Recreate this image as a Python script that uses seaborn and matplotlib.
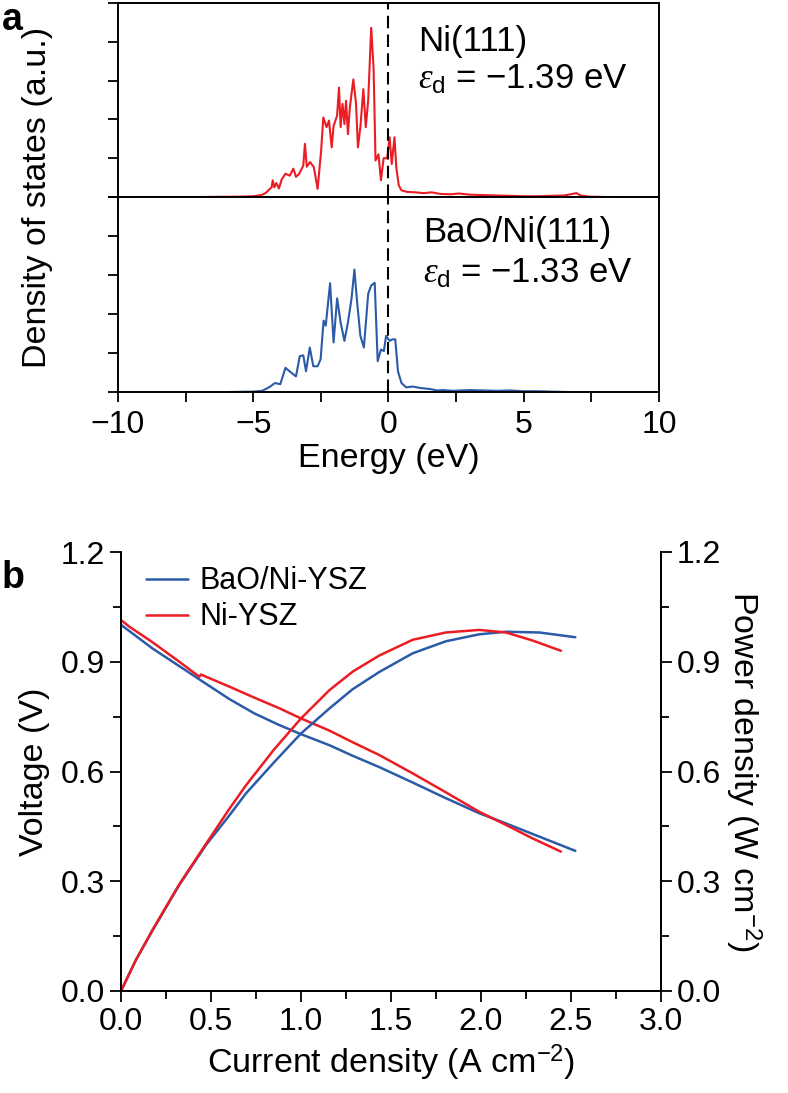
import matplotlib
matplotlib.use("Agg")
import numpy as np
import pandas as pd
import seaborn as sns
import matplotlib.pyplot as plt
from matplotlib.ticker import MultipleLocator

# ---------------- data ----------------
# Panel a: d-band density of states
ni_energy = [-9.2, -7.0, -5.5, -5.0, -4.7, -4.55, -4.47, -4.4, -4.32, -4.28, -4.22, -4.15,
             -4.05, -3.95, -3.81, -3.65, -3.52, -3.42, -3.3, -3.15, -3.09, -3.02, -2.9,
             -2.76, -2.62, -2.49, -2.41, -2.29, -2.2, -2.1, -2.03, -1.9, -1.83, -1.77,
             -1.7, -1.63, -1.57, -1.5, -1.43, -1.30, -1.2, -1.13, -1.04, -0.93, -0.84,
             -0.75, -0.64, -0.55, -0.48, -0.37, -0.28, -0.18, -0.05, 0.04, 0.12, 0.22,
             0.29, 0.38, 0.48, 0.7, 1.0, 1.3, 1.6, 1.9, 2.3, 2.6, 3.0, 3.5, 4.0, 4.5,
             5.0, 5.5, 6.0, 6.5, 6.95, 7.1, 7.4, 8.0, 8.5]
ni_dos = [0.0, 0.0, 0.01, 0.02, 0.05, 0.1, 0.15, 0.2, 0.25, 0.43, 0.25, 0.36,
          0.22, 0.45, 0.6, 0.55, 0.73, 0.52, 0.6, 0.81, 1.37, 0.78, 0.9,
          0.77, 0.21, 1.2, 2.05, 1.8, 1.97, 1.28, 1.83, 2.1, 2.82, 1.8,
          2.4, 1.88, 2.48, 1.62, 2.3, 3.03, 2.4, 1.28, 1.8, 2.78, 1.8,
          2.5, 4.36, 3.3, 0.94, 1.1, 0.43, 1.0, 1.0, 1.54, 0.85, 1.54,
          0.75, 0.3, 0.17, 0.13, 0.12, 0.1, 0.12, 0.08, 0.07, 0.09, 0.06, 0.05, 0.04, 0.03,
          0.02, 0.02, 0.03, 0.04, 0.1, 0.04, 0.01, 0.0, 0.0]

bao_energy = [-5.9, -5.0, -4.67, -4.47, -4.35, -4.2, -4.0, -3.81, -3.62, -3.42, -3.28,
              -3.15, -3.05, -2.91, -2.78, -2.62, -2.51, -2.4, -2.32, -2.16, -2.03, -1.9,
              -1.77, -1.63, -1.5, -1.37, -1.26, -1.17, -1.04, -0.91, -0.75, -0.64, -0.51,
              -0.40, -0.28, -0.17, -0.09, 0.04, 0.15, 0.25, 0.35, 0.48, 0.65, 0.9, 1.2,
              1.5, 1.8, 2.0, 2.4, 3.0, 3.5, 4.0, 4.5, 5.0, 5.6, 6.0, 6.6]
bao_dos = [0.0, 0.01, 0.03, 0.1, 0.15, 0.23, 0.2, 0.62, 0.51, 0.4, 0.92,
           0.94, 0.53, 1.14, 0.66, 0.66, 0.84, 1.83, 1.7, 2.79, 1.27, 2.4,
           1.78, 1.31, 1.78, 2.38, 3.14, 2.38, 1.44, 1.14, 2.52, 2.73, 2.8,
           0.79, 1.09, 1.05, 1.44, 1.31, 1.35, 1.35, 0.53, 0.23, 0.12, 0.14, 0.1,
           0.08, 0.04, 0.05, 0.03, 0.05, 0.04, 0.03, 0.04, 0.02, 0.02, 0.01, 0.0]

# Panel b: voltage curves
bao_j_v = [0.0, 0.046, 0.176, 0.324, 0.45, 0.602, 0.74, 0.879, 1.0, 1.157, 1.287,
           1.435, 1.62, 1.805, 1.99, 2.139, 2.324, 2.524]
bao_voltage = [1.001, 0.984, 0.936, 0.888, 0.847, 0.798, 0.759, 0.727, 0.702, 0.672,
               0.643, 0.612, 0.570, 0.527, 0.486, 0.458, 0.422, 0.383]
ni_j_v = [0.0, 0.046, 0.176, 0.324, 0.435, 0.444, 0.602, 0.74, 0.879, 1.0, 1.157,
          1.287, 1.435, 1.62, 1.805, 1.99, 2.139, 2.287, 2.444]
ni_voltage = [1.014, 0.996, 0.953, 0.900, 0.859, 0.865, 0.832, 0.802, 0.773, 0.745,
              0.712, 0.680, 0.645, 0.595, 0.543, 0.490, 0.454, 0.417, 0.381]

# Panel b: power density curves
bao_j_p = [0.0, 0.083, 0.176, 0.324, 0.472, 0.602, 0.694, 0.85, 1.0, 1.157, 1.287,
           1.435, 1.62, 1.805, 1.99, 2.139, 2.324, 2.524]
bao_power = [0.0, 0.085, 0.166, 0.290, 0.399, 0.480, 0.540, 0.625, 0.704, 0.772,
             0.825, 0.872, 0.923, 0.956, 0.975, 0.982, 0.980, 0.967]
ni_j_p = [0.0, 0.083, 0.176, 0.324, 0.472, 0.602, 0.694, 0.85, 1.0, 1.157, 1.287,
          1.435, 1.62, 1.805, 1.99, 2.139, 2.287, 2.444]
ni_power = [0.0, 0.085, 0.168, 0.292, 0.402, 0.498, 0.562, 0.660, 0.745, 0.822,
            0.873, 0.917, 0.960, 0.980, 0.987, 0.980, 0.958, 0.930]

series_names = ["BaO/Ni-YSZ", "Ni-YSZ"]
RED = "#ec1c24"
BLUE = "#2b5ba8"

# ---------------- style ----------------
sns.set_theme(style="ticks")
plt.rcParams["font.family"] = ["Liberation Sans", "DejaVu Sans"]
plt.rcParams["mathtext.fontset"] = "custom"
plt.rcParams["mathtext.rm"] = "Liberation Sans"
plt.rcParams["mathtext.it"] = "Liberation Serif:italic"
plt.rcParams["axes.linewidth"] = 1.4
plt.rcParams["axes.edgecolor"] = "black"
plt.rcParams["xtick.color"] = "black"
plt.rcParams["ytick.color"] = "black"
plt.rcParams["text.color"] = "black"
plt.rcParams["axes.labelcolor"] = "black"
plt.rcParams["xtick.labelcolor"] = "black"
plt.rcParams["ytick.labelcolor"] = "black"

TICK_FS = 23
LABEL_FS = 24.5
ANN_FS = 25

fig = plt.figure(figsize=(7.88, 10.93), dpi=100)

L_A, R_A = 118 / 788, 659 / 788
H = 1093
top_a = 1 - 3 / H
mid_a = 1 - 197 / H
bot_a = 1 - 392 / H
ax1 = fig.add_axes([L_A, mid_a, R_A - L_A, top_a - mid_a])
ax2 = fig.add_axes([L_A, bot_a, R_A - L_A, mid_a - bot_a], sharex=ax1)

df_ni = pd.DataFrame({"Energy": ni_energy, "DOS": ni_dos})
df_bao = pd.DataFrame({"Energy": bao_energy, "DOS": bao_dos})
sns.lineplot(data=df_ni, x="Energy", y="DOS", ax=ax1, color=RED, lw=1.5,
             sort=False, estimator=None)
sns.lineplot(data=df_bao, x="Energy", y="DOS", ax=ax2, color=BLUE, lw=1.5,
             sort=False, estimator=None)

for ax in (ax1, ax2):
    ax.set_xlim(-10, 10)
    ax.set_ylim(0, 5)
    ax.axvline(0, color="black", lw=1.5, ls=(0, (6, 3)), zorder=5)
    ax.yaxis.set_major_locator(MultipleLocator(1))
    ax.tick_params(axis="y", direction="out", length=7, width=1.3, labelleft=False)
    ax.xaxis.set_major_locator(MultipleLocator(5))
    ax.xaxis.set_minor_locator(MultipleLocator(2.5))
    ax.tick_params(axis="x", which="both", direction="out", length=7, width=1.3)
    ax.set_ylabel("")
    ax.set_xlabel("")
ax1.tick_params(axis="x", labelbottom=False)
ax2.tick_params(axis="x", labelsize=TICK_FS, pad=6)
ax2.set_xlabel("Energy (eV)", fontsize=LABEL_FS, labelpad=2)

ax1.text(1.09, 4.0, "Ni(111)", fontsize=ANN_FS, va="center", ha="left")
ax1.text(1.09, 3.02, r"$\varepsilon_{\mathrm{d}}$ = −1.39 eV", fontsize=ANN_FS,
         va="center", ha="left")
ax2.text(1.28, 4.08, "BaO/Ni(111)", fontsize=ANN_FS, va="center", ha="left")
ax2.text(1.28, 3.05, r"$\varepsilon_{\mathrm{d}}$ = −1.33 eV", fontsize=ANN_FS,
         va="center", ha="left")

fig.text(38 / 788, (top_a + bot_a) / 2, "Density of states (a.u.)", rotation=90,
         fontsize=LABEL_FS, ha="center", va="center")
fig.text(2 / 788, 1 - 2 / H, "a", fontsize=27, fontweight="bold", ha="left", va="top")

# ---------------- panel b ----------------
L_B, R_B = 121 / 788, 661 / 788
bot_b = 1 - 991 / H
top_b = 1 - 552 / H
axb = fig.add_axes([L_B, bot_b, R_B - L_B, top_b - bot_b])
axp = axb.twinx()

df_v = pd.concat([
    pd.DataFrame({"j": bao_j_v, "val": bao_voltage, "cell": series_names[0]}),
    pd.DataFrame({"j": ni_j_v, "val": ni_voltage, "cell": series_names[1]}),
])
df_p = pd.concat([
    pd.DataFrame({"j": bao_j_p, "val": bao_power, "cell": series_names[0]}),
    pd.DataFrame({"j": ni_j_p, "val": ni_power, "cell": series_names[1]}),
])
pal = {series_names[0]: BLUE, series_names[1]: RED}
sns.lineplot(data=df_v, x="j", y="val", hue="cell", palette=pal, ax=axb, lw=1.8,
             sort=False, estimator=None)
sns.lineplot(data=df_p, x="j", y="val", hue="cell", palette=pal, ax=axp, lw=1.8,
             sort=False, estimator=None, legend=False)

for ax in (axb, axp):
    ax.set_xlim(0, 3.0)
    ax.set_ylim(0, 1.2)
    ax.yaxis.set_major_locator(MultipleLocator(0.3))
    ax.yaxis.set_minor_locator(MultipleLocator(0.15))
    ax.spines["top"].set_visible(False)
axb.xaxis.set_major_locator(MultipleLocator(0.5))
axb.xaxis.set_minor_locator(MultipleLocator(0.25))
axb.tick_params(axis="both", which="major", direction="out", length=8, width=1.3,
                labelsize=TICK_FS)
axb.tick_params(axis="both", which="minor", direction="out", length=6, width=1.3)
axp.tick_params(axis="y", which="major", direction="out", length=8, width=1.3,
                labelsize=TICK_FS)
axp.tick_params(axis="y", which="minor", direction="out", length=6, width=1.3)

axb.set_xlabel(r"Current density (A cm$^{\mathrm{-2}}$)", fontsize=LABEL_FS, labelpad=4)
axb.set_ylabel("Voltage (V)", fontsize=LABEL_FS, labelpad=8)
axp.set_ylabel(r"Power density (W cm$^{\mathrm{-2}}$)", fontsize=LABEL_FS,
               rotation=270, labelpad=30)

leg = axb.legend(loc="upper left", frameon=False, fontsize=22, handlelength=1.35,
                 handletextpad=0.4, labelspacing=0.2, borderaxespad=0.2,
                 bbox_to_anchor=(0.013, 1.009))
for line in leg.get_lines():
    line.set_linewidth(1.8)

fig.text(2 / 788, 1 - 560 / H, "b", fontsize=27, fontweight="bold", ha="left", va="top")

fig.savefig("out.png", dpi=100)
